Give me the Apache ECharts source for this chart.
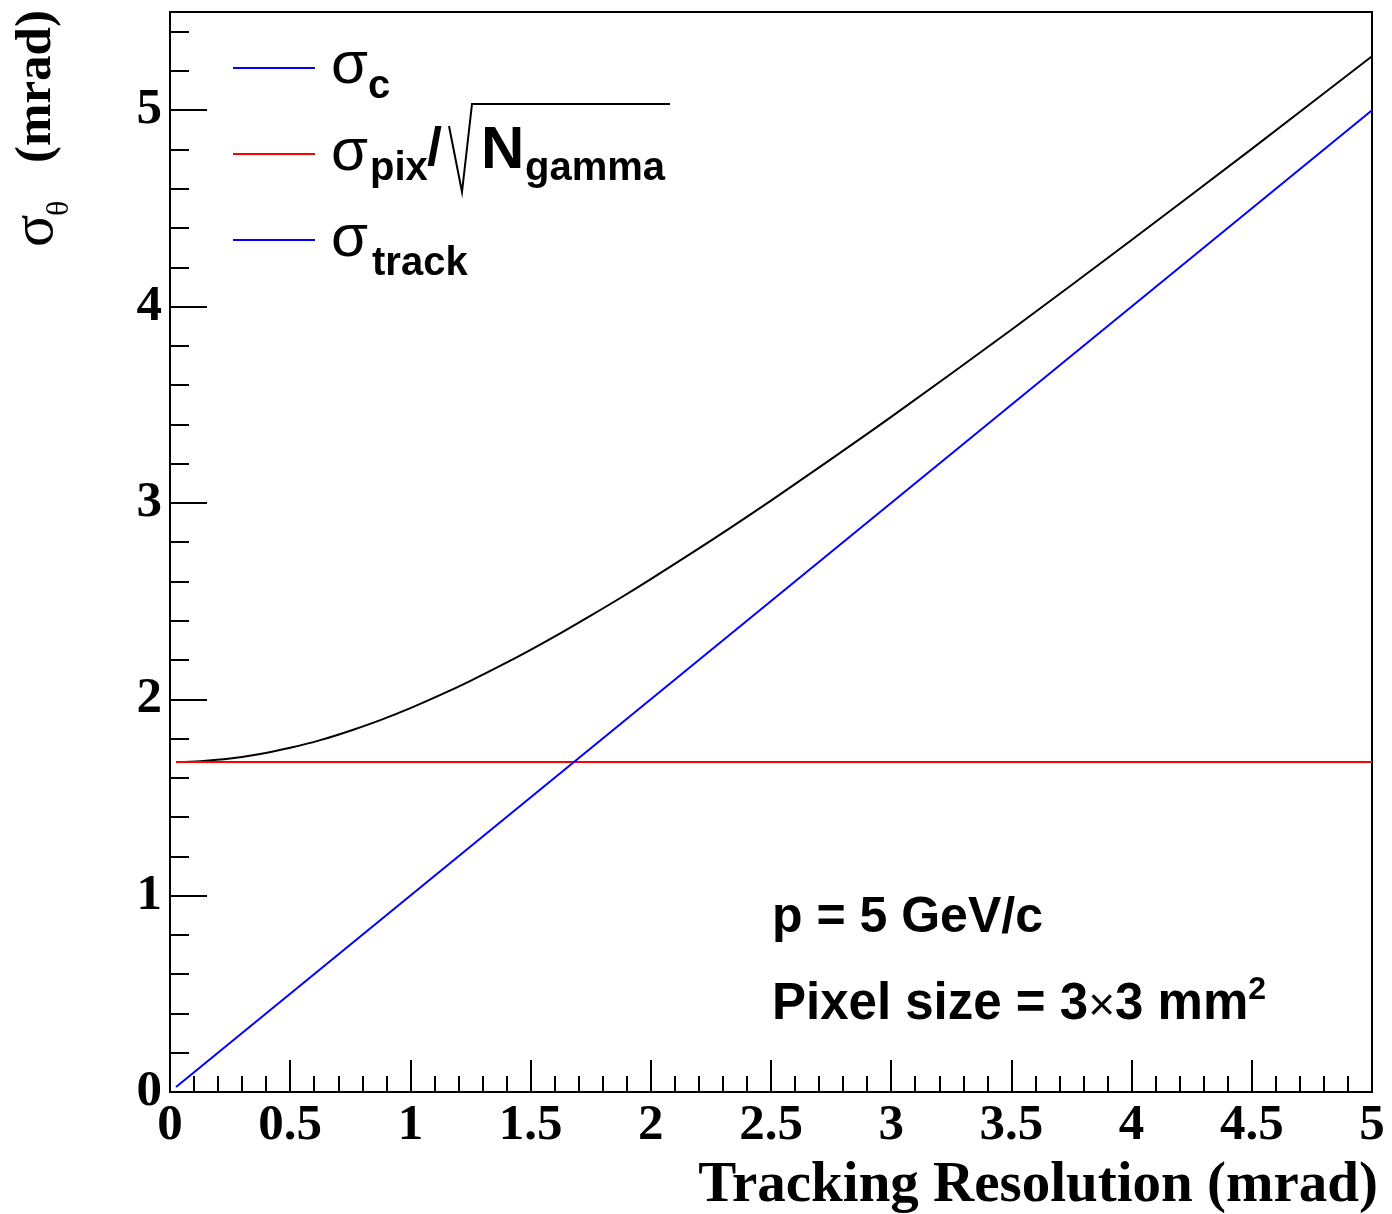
<!DOCTYPE html>
<html>
<head>
<meta charset="utf-8">
<script src="https://cdn.jsdelivr.net/npm/echarts@6/dist/echarts.min.js"></script>
<style>
  html, body { margin: 0; padding: 0; background: #fff; }
  #chart { width: 1392px; height: 1214px; }
</style>
</head>
<body>
<div id="chart"></div>
<script>
// values (mrad)
var xTotal = [0.025, 0.125, 0.25, 0.375, 0.5, 0.625, 0.75, 0.875, 1.0, 1.125, 1.25, 1.375, 1.5, 1.625, 1.75, 1.875, 2.0, 2.25, 2.5, 2.75, 3.0, 3.5, 4.0, 4.5, 5.0];
var yTotal = [1.680, 1.685, 1.698, 1.721, 1.753, 1.792, 1.840, 1.894, 1.955, 2.022, 2.094, 2.171, 2.252, 2.337, 2.426, 2.517, 2.612, 2.808, 3.012, 3.223, 3.438, 3.882, 4.339, 4.803, 5.275];
var xPix = [0.025, 5.0];
var yPix = [1.68, 1.68];
var xTrack = [0.025, 5.0];
var yTrack = [0.025, 5.0];

function pairs(xs, ys) {
    return xs.map(function (x, i) { return [x, ys[i]]; });
}

var serif = '"Liberation Serif", "DejaVu Serif", serif';
var sans = '"Liberation Sans", Arial, sans-serif';

var myChart = echarts.init(document.getElementById('chart'));
var option = {
    animation: false,
    backgroundColor: '#fff',
    grid: {
        left: 170,
        right: 20,
        top: 12,
        bottom: 122,
        show: true,
        borderColor: '#000',
        borderWidth: 2,
        backgroundColor: 'transparent'
    },
    xAxis: {
        type: 'value',
        min: 0,
        max: 5,
        interval: 0.5,
        axisLine: { show: true, lineStyle: { color: '#000', width: 2 } },
        axisTick: { show: true, inside: true, length: 32, lineStyle: { color: '#000', width: 2 } },
        minorTick: { show: true, splitNumber: 5, length: 16, lineStyle: { color: '#000', width: 2 } },
        splitLine: { show: false },
        axisLabel: {
            color: '#000',
            fontFamily: serif,
            fontWeight: 'bold',
            fontSize: 51,
            margin: 8
        }
    },
    yAxis: [{
        // minor ticks every 0.2
        type: 'value',
        min: 0,
        max: 5.5,
        interval: 0.2,
        axisLine: { show: true, lineStyle: { color: '#000', width: 2 } },
        axisTick: { show: true, inside: true, length: 19, lineStyle: { color: '#000', width: 2 } },
        splitLine: { show: false },
        axisLabel: { show: false }
    }, {
        type: 'value',
        min: 0,
        max: 5.5,
        interval: 1,
        position: 'left',
        axisLine: { show: true, lineStyle: { color: '#000', width: 2 } },
        axisTick: { show: true, inside: true, length: 37, lineStyle: { color: '#000', width: 2 } },
        splitLine: { show: false },
        axisLabel: {
            showMaxLabel: false,
            color: '#000',
            fontFamily: serif,
            fontWeight: 'bold',
            fontSize: 51,
            margin: 8
        }
    }],
    series: [{
        name: 'sigma_c',
        type: 'line',
        yAxisIndex: 1,
        data: pairs(xTotal, yTotal),
        smooth: 0.3,
        showSymbol: false,
        lineStyle: { color: '#000', width: 2 }
    }, {
        name: 'sigma_pix',
        type: 'line',
        yAxisIndex: 1,
        data: pairs(xPix, yPix),
        showSymbol: false,
        lineStyle: { color: '#ff0000', width: 2 }
    }, {
        name: 'sigma_track',
        type: 'line',
        yAxisIndex: 1,
        data: pairs(xTrack, yTrack),
        showSymbol: false,
        lineStyle: { color: '#0000ff', width: 2 }
    }],
    graphic: [
        // legend samples
        { type: 'line', shape: { x1: 233, y1: 68, x2: 315, y2: 68 }, style: { stroke: '#0000ff', lineWidth: 2 } },
        { type: 'line', shape: { x1: 233, y1: 154, x2: 315, y2: 154 }, style: { stroke: '#ff0000', lineWidth: 2 } },
        { type: 'line', shape: { x1: 233, y1: 240, x2: 315, y2: 240 }, style: { stroke: '#0000ff', lineWidth: 2 } },
        // legend texts
        { type: 'text', x: 331, y: 66, style: { text: 'σ', font: '60px ' + sans, fill: '#000', align: 'left', verticalAlign: 'middle' } },
        { type: 'text', x: 368, y: 87, style: { text: 'c', font: 'bold 40px ' + sans, fill: '#000', align: 'left', verticalAlign: 'middle' } },
        { type: 'text', x: 331, y: 153, style: { text: 'σ', font: '60px ' + sans, fill: '#000', align: 'left', verticalAlign: 'middle' } },
        { type: 'text', x: 370, y: 169, style: { text: 'pix', font: 'bold 40px ' + sans, fill: '#000', align: 'left', verticalAlign: 'middle' } },
        { type: 'text', x: 427, y: 150, style: { text: '/', font: 'bold 54px ' + sans, fill: '#000', align: 'left', verticalAlign: 'middle' } },
        { type: 'polyline', shape: { points: [[449, 126], [462, 192], [472, 104], [670, 104]] }, style: { stroke: '#000', lineWidth: 2, fill: null } },
        { type: 'text', x: 481, y: 151, style: { text: 'N', font: 'bold 60px ' + sans, fill: '#000', align: 'left', verticalAlign: 'middle' } },
        { type: 'text', x: 525, y: 169, style: { text: 'gamma', font: 'bold 40px ' + sans, fill: '#000', align: 'left', verticalAlign: 'middle' } },
        { type: 'text', x: 331, y: 239, style: { text: 'σ', font: '60px ' + sans, fill: '#000', align: 'left', verticalAlign: 'middle' } },
        { type: 'text', x: 372, y: 264, style: { text: 'track', font: 'bold 40px ' + sans, fill: '#000', align: 'left', verticalAlign: 'middle' } },
        // annotations
        { type: 'text', x: 772, y: 918, style: { text: 'p = 5 GeV/c', font: 'bold 50px ' + sans, fill: '#000', align: 'left', verticalAlign: 'middle' } },
        {
            type: 'text', x: 772, y: 1002,
            style: {
                text: '{b|Pixel size = 3}{x|×}{b|3 mm}{s|2}',
                fill: '#000',
                align: 'left',
                verticalAlign: 'middle',
                rich: {
                    b: { font: 'bold 51px ' + sans, lineHeight: 56, verticalAlign: 'bottom' },
                    x: { font: '46px ' + sans, lineHeight: 56, verticalAlign: 'bottom' },
                    s: { font: 'bold 32px ' + sans, lineHeight: 32, verticalAlign: 'top' }
                }
            }
        },
        // axis titles
        { type: 'text', x: 1378, y: 1186, style: { text: 'Tracking Resolution (mrad)', font: 'bold 57px ' + serif, fill: '#000', align: 'right', verticalAlign: 'middle' } },
        { type: 'text', x: 36, y: 247, rotation: Math.PI / 2, style: { text: 'σ', font: '60px ' + serif, fill: '#000', align: 'left', verticalAlign: 'middle' } },
        { type: 'text', x: 60, y: 216, rotation: Math.PI / 2, style: { text: 'θ', font: '32px ' + serif, fill: '#000', align: 'left', verticalAlign: 'middle' } },
        { type: 'text', x: 37, y: 163, rotation: Math.PI / 2, style: { text: '(mrad)', font: 'bold 51px ' + serif, fill: '#000', align: 'left', verticalAlign: 'middle' } }
    ]
};
myChart.setOption(option);
</script>
</body>
</html>
